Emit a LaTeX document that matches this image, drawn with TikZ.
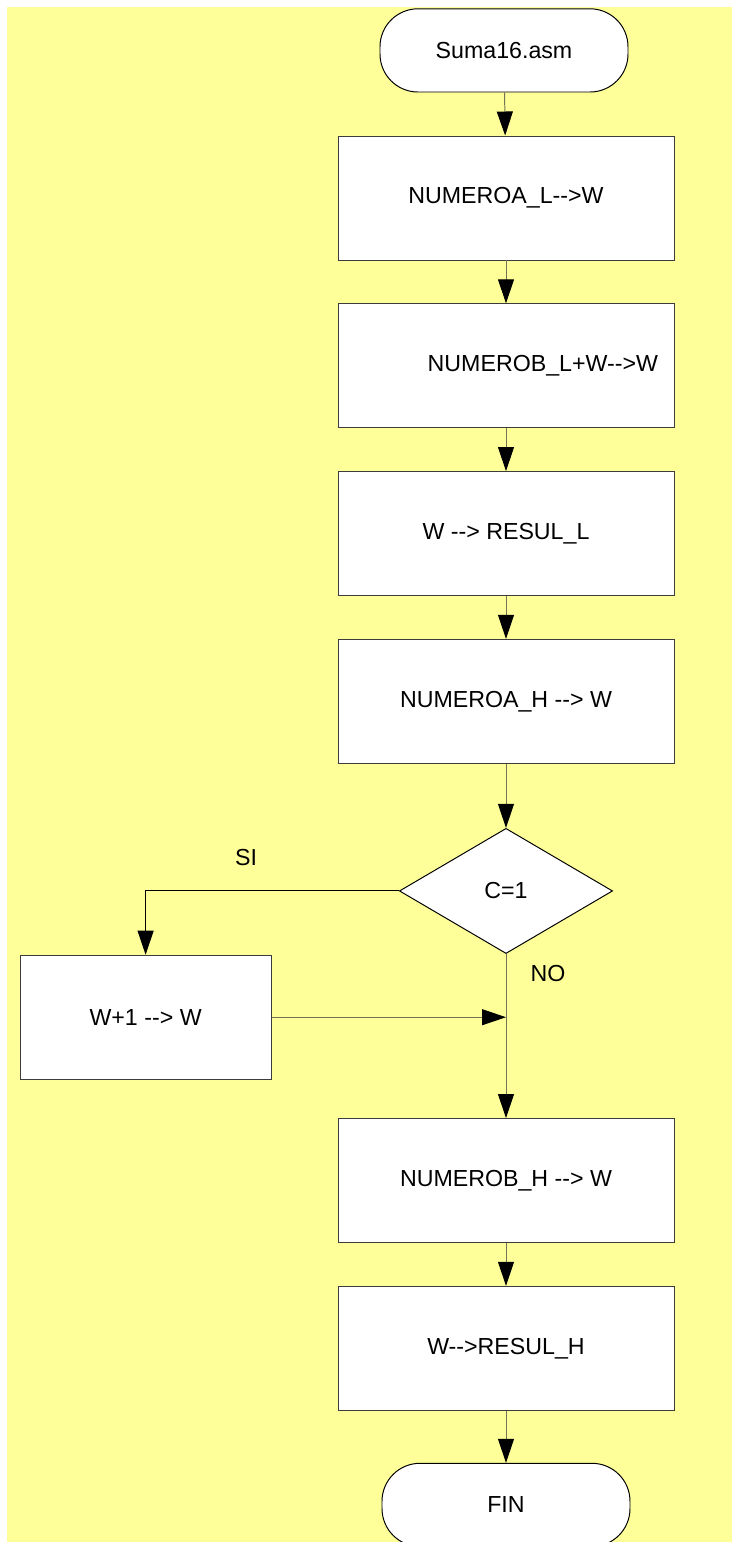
\documentclass[tikz,border=0pt]{standalone}
\usepackage{fontspec}
\setmainfont{Liberation Sans}
\usepackage{tikz}
\usetikzlibrary{shapes.geometric, arrows.meta, positioning, calc}
\definecolor{sheetyellow}{RGB}{255,255,153}
\definecolor{flowline}{RGB}{115,115,85}
\definecolor{boxedge}{RGB}{60,60,60}
\tikzset{
    proc/.style={rectangle, minimum width=8.4cm, minimum height=3.1cm,
                 draw=boxedge, fill=white, line width=0.7pt, font=\fontsize{16.5}{20}\selectfont},
    term/.style={rectangle, rounded corners=0.95cm, minimum width=6.2cm, minimum height=2.08cm,
                 draw=black, fill=white, line width=0.7pt, font=\fontsize{16.5}{20}\selectfont},
    decision/.style={diamond, minimum width=5.33cm, minimum height=3.13cm, inner sep=0pt,
                     draw=black, fill=white, line width=0.7pt, font=\fontsize{16.5}{20}\selectfont},
    tag/.style={font=\fontsize{16.5}{20}\selectfont},
    arrow/.style={line width=0.7pt, flowline, -{Triangle[length=0.6cm, width=0.4cm, fill=black, color=black]}}
}

\begin{document}
\begin{tikzpicture}[node distance=1.07cm]
    % Sheet
    \useasboundingbox (0,0) rectangle (18.3,-38.55);
    \fill[sheetyellow] (0.175,-0.175) rectangle (18.3,-38.55);

    % Start
    \node[term] (start) at (12.6,-1.26) {Suma16.asm};

    % Low byte
    \node[proc] (loadal) at (12.65,-4.95) {NUMEROA\_L-{}->W};
    \node[proc, below=of loadal, text width=7.6cm, align=right] (addbl) {NUMEROB\_L+W-{}->W};
    \node[proc, below=of addbl] (storel) {W -{}-> RESUL\_L};

    % High byte
    \node[proc, below=of storel] (loadah) {NUMEROA\_H -{}-> W};
    \node[decision, below=1.6cm of loadah] (carry) {C=1};
    \node[proc, minimum width=6.28cm] (inc) at (3.64,-25.43) {W+1 -{}-> W};
    \node[proc, below=4.1cm of carry] (addbh) {NUMEROB\_H -{}-> W};
    \node[proc, below=of addbh] (storeh) {W-{}->RESUL\_H};

    % End
    \begin{scope}
        \clip (0,0) rectangle (18.3,-38.55);
        \node[term, below=1.3cm of storeh] (fin) {FIN};
    \end{scope}

    % Labels
    \node[tag] (si) at (6.15,-21.45) {SI};
    \node[tag] (no) at (13.7,-24.33) {NO};

    % Arrows
    \coordinate (join) at (carry.south |- inc.east);
    \draw[arrow] (start) -- (loadal);
    \draw[arrow] (loadal) -- (addbl);
    \draw[arrow] (addbl) -- (storel);
    \draw[arrow] (storel) -- (loadah);
    \draw[arrow] (loadah) -- (carry);
    \draw[arrow, black] (carry.west) -| (inc.north);
    \draw[arrow] (inc.east) -- (join);
    \draw[arrow] (carry.south) -- (addbh.north);
    \draw[arrow] (addbh) -- (storeh);
    \draw[arrow] (storeh) -- (fin);
\end{tikzpicture}
\end{document}
